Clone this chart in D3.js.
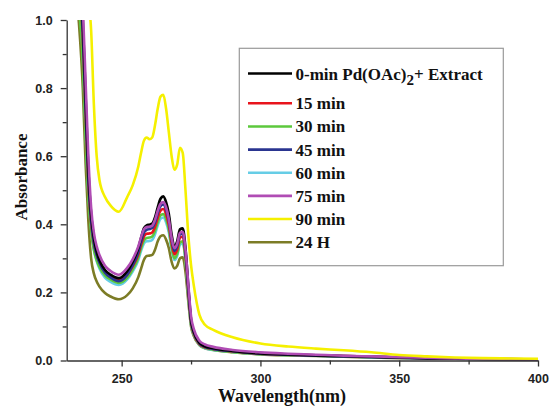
<!DOCTYPE html>
<html>
<head>
<meta charset="utf-8">
<script src="https://cdn.jsdelivr.net/npm/d3@7"></script>
<style>
  body { margin: 0; background: #fff; }
</style>
</head>
<body>
<div id="main"></div>
<script>
const ctx = {
    w: 550,
    h: 406
};
const margin = { top: 20, right: 12, bottom: 45.5, left: 66.7 };

// wavelengths (nm) shared by all spectra
const wavelengths = [232, 234, 236, 237, 238, 239, 240, 241, 242, 244, 246, 249, 252, 254, 256, 257, 258, 259, 260, 261,
    262, 263, 264, 265, 266, 267, 268, 269, 270, 271, 272, 273, 274, 275, 276, 278, 280, 283, 290, 300,
    310, 320, 330, 340, 350, 360, 370, 380, 390, 400];

const seriesNames = ['24 H', '60 min', '30 min', '15 min', '45 min', '0 min', '75 min', '90 min'];

const abs24h = [1.3, 1.06, 0.8, 0.58, 0.41, 0.3, 0.255, 0.232, 0.217, 0.198, 0.188, 0.18, 0.192, 0.212, 0.245, 0.27, 0.295, 0.307, 0.308, 0.31,
    0.325, 0.35, 0.365, 0.368, 0.355, 0.33, 0.29, 0.27, 0.278, 0.3, 0.303, 0.26, 0.175, 0.1, 0.072, 0.045, 0.036, 0.031, 0.024, 0.018,
    0.015, 0.013, 0.011, 0.009, 0.007, 0.006, 0.005, 0.004, 0.003, 0.002];
const abs60 = [1.45, 1.12, 0.9, 0.68, 0.49, 0.385, 0.325, 0.292, 0.27, 0.243, 0.231, 0.222, 0.238, 0.262, 0.295, 0.322, 0.343, 0.35, 0.351, 0.354,
    0.37, 0.397, 0.416, 0.42, 0.406, 0.376, 0.326, 0.295, 0.307, 0.34, 0.344, 0.293, 0.194, 0.106, 0.076, 0.046, 0.036, 0.031, 0.025, 0.019,
    0.016, 0.014, 0.012, 0.01, 0.008, 0.006, 0.005, 0.004, 0.003, 0.002];
const abs30 = [1.4, 1.1, 0.88, 0.66, 0.48, 0.38, 0.325, 0.295, 0.275, 0.25, 0.238, 0.228, 0.243, 0.268, 0.302, 0.33, 0.352, 0.36, 0.361, 0.364,
    0.38, 0.407, 0.426, 0.43, 0.416, 0.385, 0.333, 0.3, 0.313, 0.346, 0.35, 0.298, 0.197, 0.108, 0.077, 0.047, 0.037, 0.032, 0.025, 0.019,
    0.016, 0.014, 0.012, 0.01, 0.008, 0.007, 0.006, 0.005, 0.004, 0.003];
const abs15 = [1.5, 1.18, 0.95, 0.73, 0.52, 0.405, 0.345, 0.312, 0.29, 0.262, 0.248, 0.237, 0.252, 0.277, 0.312, 0.34, 0.364, 0.372, 0.373, 0.376,
    0.392, 0.42, 0.44, 0.445, 0.43, 0.398, 0.345, 0.312, 0.326, 0.36, 0.364, 0.31, 0.205, 0.113, 0.08, 0.049, 0.039, 0.034, 0.027, 0.02,
    0.017, 0.015, 0.013, 0.011, 0.009, 0.007, 0.006, 0.005, 0.004, 0.003];
const abs45 = [1.55, 1.2, 0.96, 0.74, 0.53, 0.41, 0.345, 0.31, 0.287, 0.258, 0.244, 0.233, 0.252, 0.28, 0.318, 0.348, 0.375, 0.384, 0.386, 0.389,
    0.405, 0.433, 0.453, 0.458, 0.443, 0.41, 0.355, 0.322, 0.336, 0.37, 0.373, 0.318, 0.21, 0.115, 0.082, 0.05, 0.04, 0.034, 0.027, 0.02,
    0.017, 0.014, 0.012, 0.01, 0.008, 0.006, 0.005, 0.004, 0.003, 0.002];
const abs0 = [1.6, 1.25, 1.0, 0.78, 0.56, 0.43, 0.36, 0.32, 0.295, 0.266, 0.252, 0.242, 0.262, 0.29, 0.33, 0.36, 0.388, 0.397, 0.399, 0.402,
    0.42, 0.45, 0.475, 0.482, 0.465, 0.43, 0.37, 0.335, 0.35, 0.385, 0.388, 0.33, 0.22, 0.12, 0.085, 0.052, 0.042, 0.036, 0.028, 0.021,
    0.018, 0.015, 0.013, 0.011, 0.009, 0.007, 0.005, 0.004, 0.003, 0.002];
const abs75 = [1.7, 1.3, 1.04, 0.82, 0.6, 0.45, 0.375, 0.335, 0.31, 0.278, 0.263, 0.252, 0.272, 0.298, 0.335, 0.362, 0.385, 0.392, 0.393, 0.396,
    0.413, 0.44, 0.46, 0.465, 0.45, 0.415, 0.36, 0.33, 0.343, 0.375, 0.378, 0.325, 0.225, 0.13, 0.092, 0.058, 0.047, 0.04, 0.031, 0.024,
    0.02, 0.017, 0.014, 0.012, 0.01, 0.008, 0.006, 0.004, 0.003, 0.002];
const abs90 = [1.8, 1.5, 1.25, 1.15, 1.06, 0.97, 0.75, 0.6, 0.53, 0.48, 0.455, 0.437, 0.48, 0.515, 0.57, 0.61, 0.645, 0.655, 0.65, 0.655,
    0.69, 0.74, 0.775, 0.78, 0.74, 0.67, 0.6, 0.56, 0.575, 0.625, 0.61, 0.5, 0.37, 0.28, 0.22, 0.135, 0.105, 0.09, 0.068, 0.05,
    0.041, 0.035, 0.03, 0.024, 0.016, 0.012, 0.009, 0.007, 0.006, 0.005];

const seriesValues = [abs24h, abs60, abs30, abs15, abs45, abs0, abs75, abs90];
const seriesColors = ['#7c7c26', '#66cde6', '#5cc83c', '#e8141c', '#2a3590', '#000000', '#b04cb4', '#f5f000'];

// legend order (top to bottom)
const legendNames = ['0 min', '15 min', '30 min', '45 min', '60 min', '75 min', '90 min', '24 H'];
const legendLabels = ['0-min Pd(OAc)', '15 min', '30 min', '45 min', '60 min', '75 min', '90 min', '24 H'];

const xTicks = [250, 300, 350, 400];
const xMinorTicks = [275, 325, 375];
const yTicks = [0.0, 0.2, 0.4, 0.6, 0.8, 1.0];
const yMinorTicks = [0.1, 0.3, 0.5, 0.7, 0.9];

let x, y;

function createLegend(svg) {
    const box = { x: 239.3, y: 48.3, w: 264, h: 217.4 };
    svg.append("rect")
        .attr("x", box.x).attr("y", box.y)
        .attr("width", box.w).attr("height", box.h)
        .attr("fill", "#fff")
        .attr("stroke", "#9a9a9a")
        .attr("stroke-width", 1.2);

    const rowY = i => i === 0 ? 73.5 : 103.3 + (i - 1) * 23.15;

    const legend = svg.selectAll(".legend")
        .data(legendNames)
        .enter().append("g")
        .attr("class", "legend")
        .attr("transform", (d, i) => "translate(0," + rowY(i) + ")");

    legend.append("line")
        .attr("x1", 248).attr("x2", 292)
        .attr("y1", 0).attr("y2", 0)
        .attr("stroke", d => seriesColors[seriesNames.indexOf(d)])
        .attr("stroke-width", 2.6);

    const txt = legend.append("text")
        .attr("x", 295.5)
        .attr("y", 6)
        .style("font-family", "'Liberation Serif', 'Times New Roman', serif")
        .style("font-weight", "bold")
        .style("font-size", "17px")
        .attr("fill", "#111");

    txt.append("tspan").text((d, i) => legendLabels[i]);
    // subscript for the first entry
    txt.filter((d, i) => i === 0).append("tspan")
        .attr("dy", 5).style("font-size", "15px").text("2");
    txt.filter((d, i) => i === 0).append("tspan")
        .attr("dy", -5).text("+ Extract");
}

function createViz() {
    const svg = d3.select("#main").append("svg")
        .attr("width", ctx.w)
        .attr("height", ctx.h);

    x = d3.scaleLinear()
        .domain([230.2, 400])
        .range([margin.left, ctx.w - margin.right]);
    y = d3.scaleLinear()
        .domain([0, 1])
        .range([ctx.h - margin.bottom, margin.top]);

    svg.append("clipPath").attr("id", "plotClip")
        .append("rect")
        .attr("x", margin.left).attr("y", margin.top)
        .attr("width", ctx.w - margin.right - margin.left)
        .attr("height", ctx.h - margin.bottom - margin.top);

    const line = d3.line()
        .x((d, i) => x(wavelengths[i]))
        .y(d => y(d))
        .curve(d3.curveMonotoneX);

    svg.append("g").attr("clip-path", "url(#plotClip)")
        .selectAll("path")
        .data(seriesValues)
        .enter().append("path")
        .attr("d", line)
        .attr("fill", "none")
        .attr("stroke", (d, i) => seriesColors[i])
        .attr("stroke-width", 2.6)
        .attr("stroke-linejoin", "round");

    const tickFont = "'Liberation Sans', Arial, sans-serif";

    // x axis
    const xAxis = svg.append("g")
        .attr("transform", `translate(0,${y(0)})`)
        .call(d3.axisBottom(x).tickValues(xTicks).tickSize(6).tickSizeOuter(0).tickPadding(8).tickFormat(d3.format("d")));
    svg.append("g")
        .attr("transform", `translate(0,${y(0)})`)
        .call(d3.axisBottom(x).tickValues(xMinorTicks).tickSize(4).tickSizeOuter(0).tickFormat(""))
        .select(".domain").remove();

    // y axis
    const yAxis = svg.append("g")
        .attr("transform", `translate(${x(230.2)},0)`)
        .call(d3.axisLeft(y).tickValues(yTicks).tickSize(6).tickSizeOuter(0).tickPadding(8).tickFormat(d3.format(".1f")));
    svg.append("g")
        .attr("transform", `translate(${x(230.2)},0)`)
        .call(d3.axisLeft(y).tickValues(yMinorTicks).tickSize(4).tickSizeOuter(0).tickFormat(""))
        .select(".domain").remove();

    svg.selectAll(".domain, .tick line")
        .attr("stroke", "#333")
        .attr("stroke-width", 1.3);
    svg.selectAll(".tick text")
        .style("font-family", tickFont)
        .style("font-weight", "bold")
        .style("font-size", "12.5px")
        .attr("fill", "#222");

    // axis titles
    svg.append("text")
        .attr("text-anchor", "middle")
        .attr("x", 282)
        .attr("y", 402)
        .style("font-family", "'Liberation Serif', 'Times New Roman', serif")
        .style("font-weight", "bold")
        .style("font-size", "18px")
        .attr("fill", "#111")
        .text("Wavelength(nm)");

    svg.append("text")
        .attr("text-anchor", "middle")
        .attr("transform", "translate(27,177) rotate(-90)")
        .style("font-family", "'Liberation Serif', 'Times New Roman', serif")
        .style("font-weight", "bold")
        .style("font-size", "17px")
        .attr("fill", "#111")
        .text("Absorbance");

    createLegend(svg);
}

createViz();
</script>
</body>
</html>
